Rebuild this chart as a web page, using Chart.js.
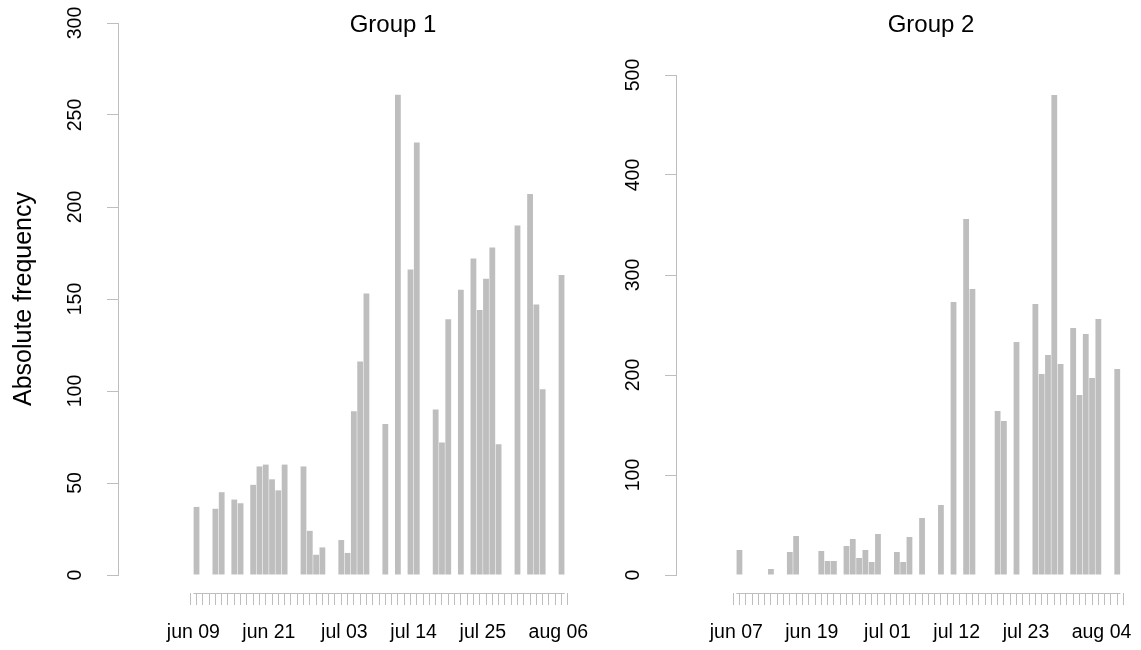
<!DOCTYPE html>
<html>
<head>
<meta charset="utf-8">
<script src="https://cdn.jsdelivr.net/npm/chart.js@4.4.1/dist/chart.umd.min.js"></script>
<style>
html, body { margin: 0; padding: 0; background: #ffffff; overflow: hidden; width: 1141px; height: 650px; }
#wrap { position: relative; width: 1141px; height: 650px; overflow: hidden; }
canvas { position: absolute; top: 0; }
#c1 { left: 0px; width: 786px; height: 650px; }
#c2 { left: 580px; width: 702px; height: 650px; }
</style>
</head>
<body>
<div id="wrap">
  <canvas id="c1" width="786" height="650"></canvas>
  <canvas id="c2" width="702" height="650"></canvas>
</div>
<script>
// ---------- data ----------
const group1Dates = [
  'jun 09','jun 10','jun 11','jun 12','jun 13','jun 14','jun 15','jun 16','jun 17','jun 18',
  'jun 19','jun 20','jun 21','jun 22','jun 23','jun 24','jun 25','jun 26','jun 27','jun 28',
  'jun 29','jun 30','jul 01','jul 02','jul 03','jul 04','jul 05','jul 06','jul 07','jul 08',
  'jul 09','jul 10','jul 11','jul 12','jul 13','jul 14','jul 15','jul 16','jul 17','jul 18',
  'jul 19','jul 20','jul 21','jul 22','jul 23','jul 24','jul 25','jul 26','jul 27','jul 28',
  'jul 29','jul 30','jul 31','aug 01','aug 02','aug 03','aug 04','aug 05','aug 06'
];
const group1Counts = [
  37, 0, 0, 36, 45, 0, 41, 39, 0, 49,
  59, 60, 52, 46, 60, 0, 0, 59, 24, 11,
  15, 0, 0, 19, 12, 89, 116, 153, 0, 0,
  82, 0, 261, 0, 166, 235, 0, 0, 90, 72,
  139, 0, 155, 0, 172, 144, 161, 178, 71, 0,
  0, 190, 0, 207, 147, 101, 0, 0, 163
];
const group1TickLabels = ['jun 09','jun 21','jul 03','jul 14','jul 25','aug 06'];

const group2Dates = [
  'jun 07','jun 08','jun 09','jun 10','jun 11','jun 12','jun 13','jun 14','jun 15','jun 16',
  'jun 17','jun 18','jun 19','jun 20','jun 21','jun 22','jun 23','jun 24','jun 25','jun 26',
  'jun 27','jun 28','jun 29','jun 30','jul 01','jul 02','jul 03','jul 04','jul 05','jul 06',
  'jul 07','jul 08','jul 09','jul 10','jul 11','jul 12','jul 13','jul 14','jul 15','jul 16',
  'jul 17','jul 18','jul 19','jul 20','jul 21','jul 22','jul 23','jul 24','jul 25','jul 26',
  'jul 27','jul 28','jul 29','jul 30','jul 31','aug 01','aug 02','aug 03','aug 04','aug 05',
  'aug 06'
];
const group2Counts = [
  25, 0, 0, 0, 0, 6, 0, 0, 23, 39,
  0, 0, 0, 24, 14, 14, 0, 29, 36, 17,
  25, 13, 41, 0, 0, 23, 13, 38, 0, 57,
  0, 0, 70, 0, 273, 0, 356, 286, 0, 0,
  0, 164, 154, 0, 233, 0, 0, 271, 201, 220,
  480, 211, 0, 247, 180, 241, 197, 256, 0, 0,
  206
];
const group2TickLabels = ['jun 07','jun 19','jul 01','jul 12','jul 23','aug 04'];

const yTitle = 'Absolute frequency';
const group1Title = 'Group 1';
const group2Title = 'Group 2';

// ---------- styling ----------
const FONT = "'Liberation Sans', Arial, Helvetica, sans-serif";
const BAR = '#bebebe';
const AXIS = '#bebebe';

const xAxisLine = {
  id: 'xAxisLine',
  afterDraw(chart, args, opts) {
    const xs = chart.scales.x;
    const ctx = chart.ctx;
    const y = Math.round(chart.chartArea.bottom + 18) + 0.5;
    ctx.save();
    ctx.strokeStyle = AXIS;
    ctx.lineWidth = 1;
    ctx.beginPath();
    ctx.moveTo(xs.getPixelForValue(0), y);
    ctx.lineTo(xs.getPixelForValue(opts.n), y);
    ctx.stroke();
    ctx.restore();
  }
};

function makeChart(id, dates, counts, tickLabels, cfg) {
  const n = dates.length;
  const points = counts.map((v, i) => ({ x: i + 0.5, y: v }));
  const boundaries = [];
  for (let i = 0; i <= n; i++) boundaries.push(i);
  return new Chart(document.getElementById(id), {
    type: 'bar',
    data: {
      datasets: [{
        data: points,
        backgroundColor: BAR,
        borderWidth: 0,
        barPercentage: 0.92,
        categoryPercentage: 1.0
      }]
    },
    options: {
      responsive: false,
      animation: false,
      devicePixelRatio: 1,
      layout: { padding: 0 },
      plugins: {
        legend: { display: false },
        tooltip: { enabled: false },
        title: {
          display: true,
          text: cfg.title,
          color: '#000000',
          font: { family: FONT, size: 24, weight: 'normal', lineHeight: 1.2 },
          padding: { top: 10.6, bottom: cfg.titlePadBottom }
        },
        xAxisLine: { n: n }
      },
      scales: {
        x: {
          type: 'linear',
          min: cfg.xMin,
          max: cfg.xMax,
          afterBuildTicks: (s) => { s.ticks = boundaries.map(v => ({ value: v })); },
          afterFit: (s) => { s.height = 75; s.paddingLeft = 0; s.paddingRight = 0; },
          border: { display: false },
          grid: {
            display: true,
            drawOnChartArea: false,
            drawTicks: true,
            tickLength: 30,
            tickColor: AXIS,
            tickWidth: 1,
            tickBorderDash: [0, 18, 12, 200]
          },
          ticks: {
            autoSkip: false,
            minRotation: 0,
            maxRotation: 0,
            padding: 16,
            color: '#000000',
            font: { family: FONT, size: 19.5, lineHeight: 1.2 },
            callback: (value) => {
              const i = Math.round(value);
              return (i < n && tickLabels.includes(dates[i])) ? dates[i] : '';
            }
          }
        },
        y: {
          type: 'linear',
          min: 0,
          max: cfg.yMax,
          afterFit: (s) => { s.width = cfg.yWidth; s.paddingTop = 0; s.paddingBottom = 0; },
          border: { display: true, color: AXIS, width: 1 },
          grid: {
            display: true,
            drawOnChartArea: false,
            drawTicks: true,
            tickLength: 11,
            tickColor: AXIS,
            tickWidth: 1
          },
          ticks: {
            stepSize: cfg.yStep,
            minRotation: 90,
            maxRotation: 90,
            crossAlign: 'center',
            padding: 15,
            color: '#000000',
            font: { family: FONT, size: 19.5, lineHeight: 1.2 }
          },
          title: {
            display: cfg.showYTitle,
            text: yTitle,
            color: '#000000',
            font: { family: FONT, size: 25, lineHeight: 1.2 },
            padding: { top: 9.6, bottom: 0 }
          }
        }
      }
    },
    plugins: [xAxisLine]
  });
}

makeChart('c1', group1Dates, group1Counts, group1TickLabels, {
  title: group1Title, titlePadBottom: -16.4,
  xMin: -11.09, xMax: 93.28, yMax: 300, yStep: 50, yWidth: 118, showYTitle: true
});
makeChart('c2', group2Dates, group2Counts, group2TickLabels, {
  title: group2Title, titlePadBottom: 35.6,
  xMin: -8.8, xMax: 85.89, yMax: 500, yStep: 100, yWidth: 96, showYTitle: false
});
</script>
</body>
</html>
